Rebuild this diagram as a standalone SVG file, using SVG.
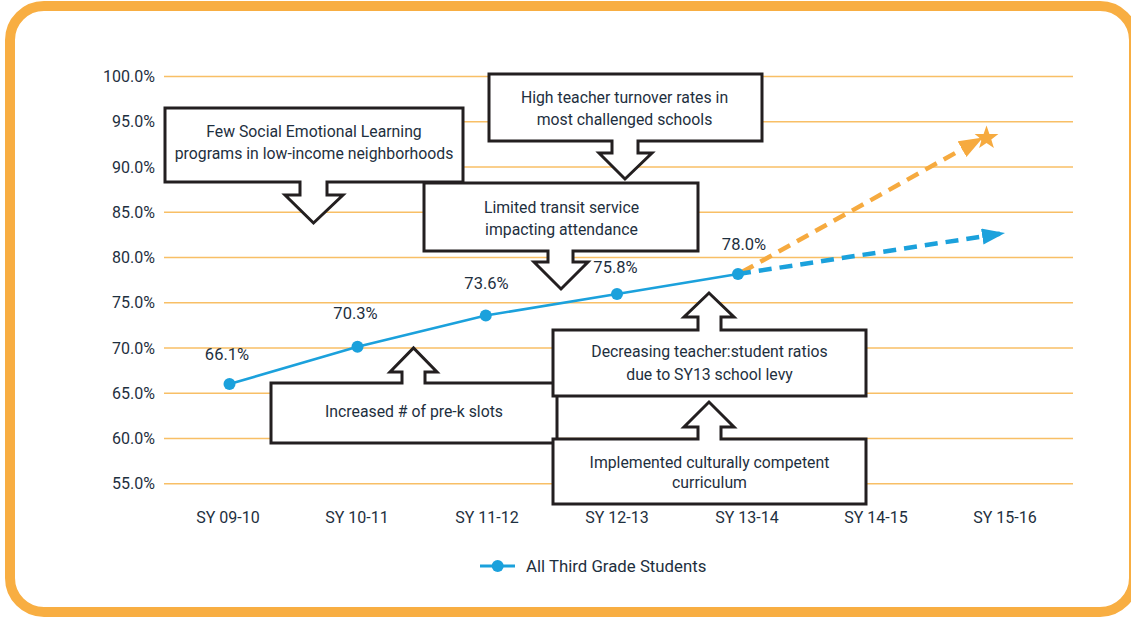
<svg xmlns="http://www.w3.org/2000/svg" width="1131" height="617" viewBox="0 0 1131 617">
<style>
  .grid{stroke:#F8BF66;stroke-width:1.6;fill:none}
  .ylab{font-family:Roboto,"Liberation Sans",sans-serif;font-size:16px;fill:#1E2F3E;text-anchor:end}
  .xlab{font-family:Roboto,"Liberation Sans",sans-serif;font-size:16px;fill:#1E2F3E;text-anchor:middle}
  .dlab{font-family:Roboto,"Liberation Sans",sans-serif;font-size:16.5px;fill:#1E2F3E;text-anchor:middle}
  .btxt{font-family:Roboto,"Liberation Sans",sans-serif;font-size:15.8px;fill:#1E2F3E;text-anchor:middle}
  .leg{font-family:Roboto,"Liberation Sans",sans-serif;font-size:16.8px;fill:#1E2F3E}
  .box{fill:#FFFFFF;stroke:#231F20;stroke-width:3;stroke-linejoin:miter}
  .series{stroke:#1BA1DC;stroke-width:2.6;fill:none}
  .dot{fill:#1BA1DC}
  .projb{stroke:#1BA1DC;stroke-width:4.5;stroke-dasharray:13 8;fill:none}
  .projo{stroke:#F6AA3F;stroke-width:4.5;stroke-dasharray:13 8;fill:none}
</style>
<defs>
  <marker id="arrB" markerUnits="userSpaceOnUse" markerWidth="24" markerHeight="17" refX="23" refY="8" orient="auto">
    <path d="M0,0 L23,8 L0,16 Z" fill="#1BA1DC"/>
  </marker>
  <marker id="arrO" markerUnits="userSpaceOnUse" markerWidth="25" markerHeight="19" refX="24" refY="9" orient="auto">
    <path d="M0,0 L24,9 L0,18 Z" fill="#F6AA3F"/>
  </marker>
</defs>

<rect x="0" y="0" width="1131" height="617" fill="#FFFFFF"/>
<rect id="frame" x="10" y="6" width="1124" height="606" rx="34" ry="34" fill="#FFFFFF" stroke="#F8AE42" stroke-width="10"/>

<g id="grid">
  <line class="grid" x1="164" y1="76.5" x2="1073" y2="76.5"/>
  <line class="grid" x1="164" y1="121.75" x2="1073" y2="121.75"/>
  <line class="grid" x1="164" y1="167" x2="1073" y2="167"/>
  <line class="grid" x1="164" y1="212.25" x2="1073" y2="212.25"/>
  <line class="grid" x1="164" y1="257.5" x2="1073" y2="257.5"/>
  <line class="grid" x1="164" y1="302.75" x2="1073" y2="302.75"/>
  <line class="grid" x1="164" y1="348" x2="1073" y2="348"/>
  <line class="grid" x1="164" y1="393.25" x2="1073" y2="393.25"/>
  <line class="grid" x1="164" y1="438.5" x2="1073" y2="438.5"/>
  <line class="grid" x1="164" y1="483.75" x2="1073" y2="483.75"/>
</g>

<g id="y-axis">
  <text class="ylab" x="155" y="82.2">100.0%</text>
  <text class="ylab" x="155" y="127.4">95.0%</text>
  <text class="ylab" x="155" y="172.7">90.0%</text>
  <text class="ylab" x="155" y="217.9">85.0%</text>
  <text class="ylab" x="155" y="263.2">80.0%</text>
  <text class="ylab" x="155" y="308.4">75.0%</text>
  <text class="ylab" x="155" y="353.7">70.0%</text>
  <text class="ylab" x="155" y="398.9">65.0%</text>
  <text class="ylab" x="155" y="444.2">60.0%</text>
  <text class="ylab" x="155" y="489.4">55.0%</text>
</g>

<g id="x-axis">
  <text class="xlab" x="228" y="522.5">SY 09-10</text>
  <text class="xlab" x="357" y="522.5">SY 10-11</text>
  <text class="xlab" x="487" y="522.5">SY 11-12</text>
  <text class="xlab" x="617" y="522.5">SY 12-13</text>
  <text class="xlab" x="747" y="522.5">SY 13-14</text>
  <text class="xlab" x="876" y="522.5">SY 14-15</text>
  <text class="xlab" x="1005" y="522.5">SY 15-16</text>
</g>

<g id="callout-sel">
  <path class="box" d="M165,108 H463 V182 H327 V195 H343 L313.5,223 L285,195 H300 V182 H165 Z"/>
  <text class="btxt" x="314" y="136.5">Few Social Emotional Learning</text>
  <text class="btxt" x="314" y="158.5">programs in low-income neighborhoods</text>
</g>

<g id="callout-turnover">
  <path class="box" d="M489,74 H762 V141 H638 V153 H652 L625,179 L599,153 H612 V141 H489 Z"/>
  <text class="btxt" x="624.5" y="103.3">High teacher turnover rates in</text>
  <text class="btxt" x="624.5" y="124.6">most challenged schools</text>
</g>

<g id="callout-transit">
  <path class="box" d="M424,183 H698 V251 H573 V262 H588 L561,289 L534,262 H548 V251 H424 Z"/>
  <text class="btxt" x="561.5" y="213.3">Limited transit service</text>
  <text class="btxt" x="561.5" y="234.9">impacting attendance</text>
</g>

<g id="callout-prek">
  <path class="box" d="M271,383 H402 V372 H390 L413.5,348 L437,372 H425 V383 H557 V443 H271 Z"/>
  <text class="btxt" x="414" y="416.6">Increased # of pre-k slots</text>
</g>

<g id="callout-ratios">
  <path class="box" d="M553,330 H698 V317 H684 L709,293 L734,317 H721 V330 H866 V396 H553 Z"/>
  <text class="btxt" x="709.5" y="357.3">Decreasing teacher:student ratios</text>
  <text class="btxt" x="709.5" y="379.9">due to SY13 school levy</text>
</g>

<g id="callout-curriculum">
  <path class="box" d="M553,439 H698 V427 H684 L709,402 L734,427 H721 V439 H866 V504 H553 Z"/>
  <text class="btxt" x="709.5" y="467.6">Implemented culturally competent</text>
  <text class="btxt" x="709.5" y="487.9">curriculum</text>
</g>

<g id="connectors">
  <path class="projo" d="M742,272 L983,137.5" marker-end="url(#arrO)"/>
  <path class="projb" d="M738,274 L1005,233" marker-end="url(#arrB)"/>
  <polyline class="series" points="229.5,384 357.5,346.7 485.8,315.5 617,294 738,274"/>
</g>

<g id="star">
  <polygon fill="#F6AA3F" points="986.5,125.5 989.4,134 998.4,134.1 991.3,139.5 993.9,148.1 986.5,143 979.1,148.1 981.7,139.5 974.6,134.1 983.6,134"/>
</g>

<g id="points">
  <circle class="dot" cx="229.5" cy="384" r="6"/>
  <circle class="dot" cx="357.5" cy="346.7" r="6"/>
  <circle class="dot" cx="485.8" cy="315.5" r="6"/>
  <circle class="dot" cx="617" cy="294" r="6"/>
  <circle class="dot" cx="738" cy="274" r="6"/>
</g>

<g id="data-labels">
  <text class="dlab" x="227" y="360">66.1%</text>
  <text class="dlab" x="355.5" y="319.3">70.3%</text>
  <text class="dlab" x="486.5" y="289.3">73.6%</text>
  <text class="dlab" x="615.5" y="272.7">75.8%</text>
  <text class="dlab" x="744" y="250">78.0%</text>
</g>

<g id="legend">
  <line x1="480" y1="566" x2="515" y2="566" stroke="#1BA1DC" stroke-width="3"/>
  <circle class="dot" cx="497.7" cy="566" r="6"/>
  <text class="leg" x="526" y="572">All Third Grade Students</text>
</g>
</svg>
